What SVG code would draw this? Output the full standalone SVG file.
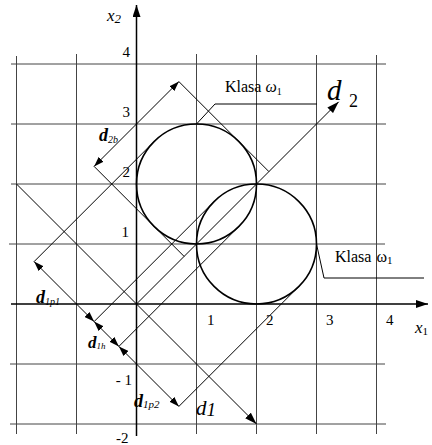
<svg xmlns="http://www.w3.org/2000/svg" width="432" height="445" viewBox="0 0 432 445">
<style>
.grid{stroke:#444;stroke-width:1;fill:none}
.axis{stroke:#000;stroke-width:1.5;fill:none}
.ln{stroke:#000;stroke-width:1;fill:none}
.circ{stroke:#000;stroke-width:1.6;fill:none}
text{font-family:"Liberation Serif","Times New Roman",serif;fill:#000}
.num{font-size:15px}
.it{font-style:italic}
.bd{font-style:italic;font-weight:bold}
</style>
<defs>
<marker id="ah" viewBox="0 0 10 7" refX="10" refY="3.5" markerWidth="10" markerHeight="7" markerUnits="userSpaceOnUse" orient="auto-start-reverse"><path d="M0,0 L10,3.5 L0,7 z" fill="#000"/></marker>
<marker id="big" viewBox="0 0 12 8" refX="12" refY="4" markerWidth="12" markerHeight="8" markerUnits="userSpaceOnUse" orient="auto"><path d="M0,0 L12,4 L0,8 z" fill="#000"/></marker>
</defs>
<g id="grid">
<path class="grid" d="M11,64H386M11,124H386M11,184H386M9,244H385M10,364H385M10,424H386"/>
<path class="grid" d="M16.5,56V434M76.5,54V434M196.5,54V434M256.5,55V434M316.5,55V434M376.5,55V434"/>
</g>
<g id="axes">
<path class="axis" d="M11,304H428" marker-end="url(#big)"/>
<path class="axis" d="M136.5,436V5" marker-end="url(#big)"/>
</g>
<g id="circles">
<circle id="c1" class="circ" cx="196.5" cy="184" r="60"/>
<circle id="c2" class="circ" cx="256.5" cy="244" r="60"/>
</g>
<g id="connectors">
<path id="d1axis" class="ln" d="M16.5,184L256.5,424" marker-end="url(#big)"/>
<path id="d2axis" class="ln" d="M136.5,304L338.7,101.8" marker-end="url(#big)"/>
<path class="ln" d="M34.1,261.6L154.1,141.6M94.1,321.6L214.1,201.6M118.9,346.4L238.9,226.4M178.9,406.4L298.9,286.4"/>
<path class="ln" d="M94.1,166.4L184.1,256.4M178.9,81.6L268.9,171.6"/>
<path class="ln" d="M34.1,261.6L94.1,321.6" marker-start="url(#ah)" marker-end="url(#ah)"/>
<path class="ln" d="M94.1,321.6L118.9,346.4" marker-start="url(#ah)" marker-end="url(#ah)"/>
<path class="ln" d="M118.9,346.4L178.9,406.4" marker-start="url(#ah)" marker-end="url(#ah)"/>
<path class="ln" d="M94.1,166.4L178.9,81.6" marker-start="url(#ah)" marker-end="url(#ah)"/>
<path class="ln" d="M196.5,124L215,104H317"/>
<path class="ln" d="M316.5,244L324,278H424"/>
</g>
<g id="labels">
<text class="it" x="107" y="21" font-size="17">x<tspan font-size="13" dy="2">2</tspan></text>
<text class="num" x="130" y="57" text-anchor="end">4</text>
<text class="num" x="130" y="117" text-anchor="end">3</text>
<text class="num" x="130" y="177" text-anchor="end">2</text>
<text class="num" x="129" y="237" text-anchor="end">1</text>
<text class="num" x="132" y="385" text-anchor="end">- 1</text>
<text class="num" x="116" y="443">-2</text>
<text class="num" x="207" y="325">1</text>
<text class="num" x="266" y="325">2</text>
<text class="num" x="326" y="325">3</text>
<text class="num" x="386" y="325">4</text>
<text class="it" x="415" y="333" font-size="17">x<tspan font-size="11" dy="2" font-style="normal">1</tspan></text>
<text x="225" y="92" font-size="16">Klasa <tspan class="it">ω</tspan><tspan font-size="10" dy="3">1</tspan></text>
<text x="335" y="262" font-size="16">Klasa <tspan dx="1">ω</tspan><tspan font-size="11" dy="2">1</tspan></text>
<text class="it" x="327" y="100" font-size="29">d</text>
<text x="349" y="107" font-size="18">2</text>
<text class="it" x="196" y="415" font-size="21">d<tspan font-size="19" dy="1">1</tspan></text>
<text class="bd" x="99" y="141" font-size="18">d<tspan font-size="10" dy="2" font-weight="normal">2b</tspan></text>
<text class="bd" x="36" y="303" font-size="18">d<tspan font-size="10" dy="2" font-weight="normal">1p1</tspan></text>
<text class="bd" x="88" y="348" font-size="17">d<tspan font-size="9" dy="1" font-weight="normal">1h</tspan></text>
<text class="bd" x="134" y="407" font-size="18">d<tspan font-size="11" dy="1" font-weight="normal">1p2</tspan></text>
</g>
</svg>
